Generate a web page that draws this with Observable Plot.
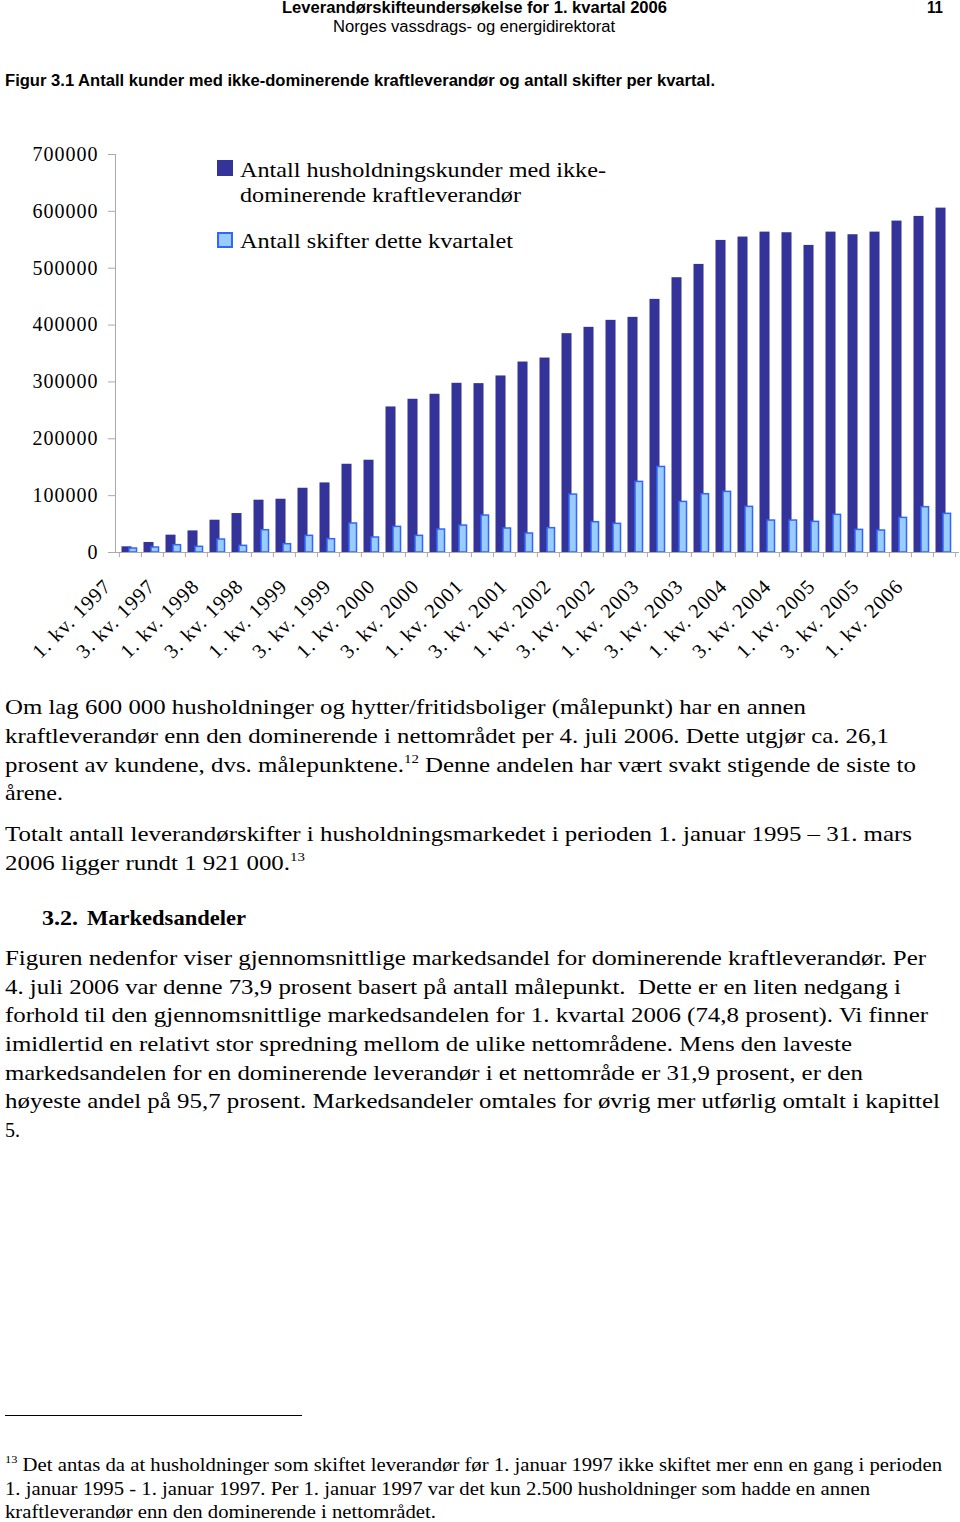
<!DOCTYPE html>
<html>
<head>
<meta charset="utf-8">
<script src="https://cdn.jsdelivr.net/npm/d3@7"></script>
<script src="https://cdn.jsdelivr.net/npm/@observablehq/plot@0.6"></script>
<style>
  html, body { margin: 0; padding: 0; background: #fff; }
  body { width: 960px; height: 1522px; position: relative; overflow: hidden; color: #000; }
  .ln { position: absolute; white-space: nowrap; transform-origin: left center; }
  .sans { font-family: "Liberation Sans", Arial, sans-serif; }
  .serif { font-family: "Liberation Serif", "Times New Roman", serif; }
  sup { font-size: 0.6em; vertical-align: baseline; position: relative; top: -0.7em; line-height: 0; }
  #chart { position: absolute; left: 0; top: 140px; }
</style>
</head>
<body>
<script>
// ---------- DATA ----------
const quarters = [
  "1. kv. 1997","2. kv. 1997","3. kv. 1997","4. kv. 1997",
  "1. kv. 1998","2. kv. 1998","3. kv. 1998","4. kv. 1998",
  "1. kv. 1999","2. kv. 1999","3. kv. 1999","4. kv. 1999",
  "1. kv. 2000","2. kv. 2000","3. kv. 2000","4. kv. 2000",
  "1. kv. 2001","2. kv. 2001","3. kv. 2001","4. kv. 2001",
  "1. kv. 2002","2. kv. 2002","3. kv. 2002","4. kv. 2002",
  "1. kv. 2003","2. kv. 2003","3. kv. 2003","4. kv. 2003",
  "1. kv. 2004","2. kv. 2004","3. kv. 2004","4. kv. 2004",
  "1. kv. 2005","2. kv. 2005","3. kv. 2005","4. kv. 2005",
  "1. kv. 2006","2. kv. 2006"
];
const labeledQuarters = [
  "1. kv. 1997","3. kv. 1997","1. kv. 1998","3. kv. 1998","1. kv. 1999","3. kv. 1999",
  "1. kv. 2000","3. kv. 2000","1. kv. 2001","3. kv. 2001","1. kv. 2002","3. kv. 2002",
  "1. kv. 2003","3. kv. 2003","1. kv. 2004","3. kv. 2004","1. kv. 2005","3. kv. 2005",
  "1. kv. 2006"
];
const customers = [
  10000,17600,30500,38000,56800,68500,92000,93700,113000,122400,
  155200,162300,256000,269500,278300,297600,297000,310500,335000,342000,
  384900,396000,408300,413600,445200,483300,506700,548900,554800,563500,
  562400,540100,563500,558900,563500,582900,591100,605700
];
const switches = [
  7000,8800,12900,10000,22800,11700,39200,14600,29300,23400,
  51000,26400,45100,29300,40400,47400,65000,42200,33400,42800,
  101900,53300,50400,124200,150500,89000,102500,106600,80300,56200,
  56200,53900,66200,39800,38700,60900,79700,68000
];
const yTicks = [0,100000,200000,300000,400000,500000,600000,700000];
const seriesNames = ["Antall husholdningskunder med ikke-dominerende kraftleverandør", "Antall skifter dette kvartalet"];
const darkColor = "#333399", lightColor = "#99CCFF", lightStroke = "#3366FF";

// ---------- TEXT ----------
function line(html, cls, x, y, w, size, lh, extra) {
  const d = document.createElement("div");
  d.className = "ln " + cls;
  d.innerHTML = html;
  d.style.left = x + "px";
  d.style.top = (y - lh / 2) + "px";
  d.style.lineHeight = lh + "px";
  d.style.fontSize = size + "px";
  if (extra) Object.assign(d.style, extra);
  d.dataset.w = w;
  document.body.appendChild(d);
  return d;
}
line("Leverandørskifteundersøkelse for 1. kvartal 2006", "sans", 282, 8, 385, 16, 18, {fontWeight: "bold"});
line("Norges vassdrags- og energidirektorat", "sans", 333, 27, 282, 16, 18);
line("11", "sans", 927, 8, 16, 16, 18, {fontWeight: "bold"});
line("Figur 3.1 Antall kunder med ikke-dominerende kraftleverandør og antall skifter per kvartal.", "sans", 5, 81, 710, 16, 18, {fontWeight: "bold"});

const B = 22, LH = 28;
line("Om lag 600 000 husholdninger og hytter/fritidsboliger (målepunkt) har en annen", "serif", 5, 707, 801, B, LH);
line("kraftleverandør enn den dominerende i nettområdet per 4. juli 2006. Dette utgjør ca. 26,1", "serif", 5, 736, 884, B, LH);
line("prosent av kundene, dvs. målepunktene.<sup>12</sup> Denne andelen har vært svakt stigende de siste to", "serif", 5, 765, 911, B, LH);
line("årene.", "serif", 5, 793, 58, B, LH);
line("Totalt antall leverandørskifter i husholdningsmarkedet i perioden 1. januar 1995 – 31. mars", "serif", 5, 834, 907, B, LH);
line("2006 ligger rundt 1 921 000.<sup>13</sup>", "serif", 5, 863, 300, B, LH);
line("3.2.", "serif", 42, 918, 36, B, LH, {fontWeight: "bold"});
line("Markedsandeler", "serif", 87, 918, 159, B, LH, {fontWeight: "bold"});
line("Figuren nedenfor viser gjennomsnittlige markedsandel for dominerende kraftleverandør. Per", "serif", 5, 958, 921, B, LH);
line("4. juli 2006 var denne 73,9 prosent basert på antall målepunkt.&nbsp; Dette er en liten nedgang i", "serif", 5, 987, 896, B, LH);
line("forhold til den gjennomsnittlige markedsandelen for 1. kvartal 2006 (74,8 prosent). Vi finner", "serif", 5, 1015, 923, B, LH);
line("imidlertid en relativt stor spredning mellom de ulike nettområdene. Mens den laveste", "serif", 5, 1044, 847, B, LH);
line("markedsandelen for en dominerende leverandør i et nettområde er 31,9 prosent, er den", "serif", 5, 1073, 858, B, LH);
line("høyeste andel på 95,7 prosent. Markedsandeler omtales for øvrig mer utførlig omtalt i kapittel", "serif", 5, 1101, 935, B, LH);
line("5.", "serif", 5, 1130, 15, B, LH);

const rule = document.createElement("div");
Object.assign(rule.style, {position: "absolute", left: "5px", top: "1415px", width: "297px", height: "1px", background: "#000"});
document.body.appendChild(rule);

const F = 18, FLH = 22;
line("<sup>13</sup> Det antas da at husholdninger som skiftet leverandør før 1. januar 1997 ikke skiftet mer enn en gang i perioden", "serif", 5, 1465, 937, F, FLH);
line("1. januar 1995 - 1. januar 1997. Per 1. januar 1997 var det kun 2.500 husholdninger som hadde en annen", "serif", 5, 1489, 865, F, FLH);
line("kraftleverandør enn den dominerende i nettområdet.", "serif", 5, 1512, 431, F, FLH);

// ---------- CHART ----------
const W = 960, H = 532, ML = 115, MR = 2, MT = 14, MB = 120;
const bw = (W - ML - MR) / quarters.length;
const rows = quarters.map((q, i) => ({q, customers: customers[i], switches: switches[i]}));

const chart = Plot.plot({
  width: W, height: H,
  marginLeft: ML, marginRight: MR, marginTop: MT, marginBottom: MB,
  style: {fontFamily: "Liberation Serif, serif", fontSize: "20px", color: "#000", background: "transparent", overflow: "visible"},
  x: {domain: quarters, padding: 0, axis: null},
  y: {domain: [0, 700000], axis: null},
  marks: [
    Plot.barY(rows, {x: "q", y: "customers", fill: darkColor, insetLeft: 2.5, insetRight: bw - 12.7, title: d => seriesNames[0]}),
    Plot.barY(rows, {x: "q", y: "switches", fill: lightColor, stroke: lightStroke, strokeWidth: 1.5, insetLeft: 10, insetRight: bw - 17.7, title: d => seriesNames[1]}),
    Plot.frame({anchor: "left", stroke: "#aaa"}),
    Plot.frame({anchor: "bottom", stroke: "#aaa"}),
    Plot.axisY({ticks: yTicks, tickFormat: d => String(d), tickSize: 7, tickPadding: 10, stroke: "#aaa", fontSize: 20}),
    Plot.ruleX(quarters, {x: d => d, y1: 0, y2: -9000, dx: -bw / 2, stroke: "#aaa", clip: false}),
    Plot.ruleX([quarters[quarters.length - 1]], {x: d => d, y1: 0, y2: -9000, dx: bw / 2, stroke: "#aaa", clip: false}),
    Plot.text(labeledQuarters, {x: d => d, frameAnchor: "bottom", text: d => d, rotate: -45, textAnchor: "end", dx: -18, dy: 35, fontSize: 20.5, fill: "#000"})
  ]
});
chart.querySelectorAll("text").forEach(t => t.style.letterSpacing = "1px");
const wrap = document.createElement("div");
wrap.id = "chart";
wrap.appendChild(chart);
document.body.appendChild(wrap);

// Legend
function sw(x, y, fill, stroke) {
  const s = document.createElement("div");
  Object.assign(s.style, {position: "absolute", left: x + "px", top: y + "px", width: "16px", height: "16px", background: fill, boxSizing: "border-box"});
  if (stroke) s.style.border = "2px solid " + stroke;
  document.body.appendChild(s);
}
sw(217, 160, darkColor);
sw(217, 232, lightColor, lightStroke);
line("Antall husholdningskunder med ikke-", "serif", 240, 170, 366, 21, 24);
line("dominerende kraftleverandør", "serif", 240, 195, 281, 21, 24);
line("Antall skifter dette kvartalet", "serif", 240, 241, 273, 21, 24);

// fit widths
function fit() {
  document.querySelectorAll(".ln").forEach(el => {
    el.style.transform = "none";
    const w = el.getBoundingClientRect().width;
    const target = +el.dataset.w;
    if (w > 0 && target > 0) el.style.transform = `scaleX(${target / w})`;
  });
}
fit();
if (document.fonts && document.fonts.ready) document.fonts.ready.then(fit);
</script>
</body>
</html>
